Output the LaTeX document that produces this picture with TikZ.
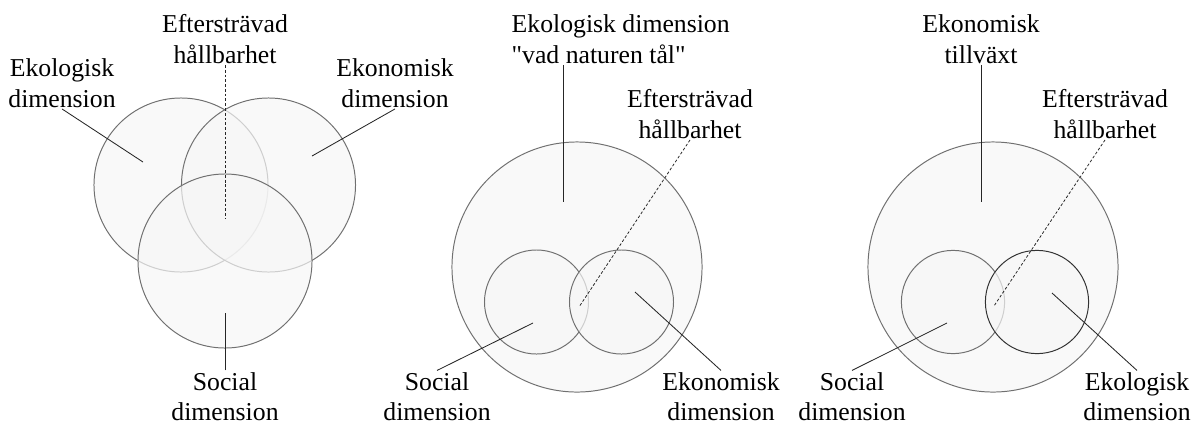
\documentclass[tikz,border=0pt]{standalone}
\usepackage{fontspec}
\setmainfont{Liberation Serif}
\usetikzlibrary{positioning,calc}
\definecolor{ringgray}{RGB}{112,112,112}
\definecolor{ringdark}{RGB}{50,50,50}
\definecolor{ringfill}{RGB}{246,246,246}

\begin{document}
\begin{tikzpicture}[x=0.025cm,y=-0.025cm,every node/.style={font=\fontsize{18.3}{21.34}\selectfont,inner sep=1pt,align=center},
ring/.style={circle,draw=ringgray,line width=0.7pt,fill=ringfill,fill opacity=0.7,draw opacity=1,inner sep=0pt,outer sep=0pt},
lead/.style={draw=black!85,line width=0.6pt},
aim/.style={draw=black!85,line width=0.55pt,dash pattern=on 2pt off 1.4pt}]
\useasboundingbox (0,0) rectangle (1192,423);
% three dimensions, equal weight
\node[ring,minimum size=4.35cm](eko1) at (181,185){};
\node[ring,minimum size=4.35cm](ekn1) at (268.5,185){};
\node[ring,minimum size=4.35cm](soc1) at (225,261){};
\node[anchor=base](aim1) at (225,63){Eftersträvad\\hållbarhet};
\node[anchor=base](ekoL1) at (62,107){Ekologisk\\dimension};
\node[anchor=base](eknL1) at (395,107){Ekonomisk\\dimension};
\node[anchor=base](socL1) at (225,420){Social\\dimension};
\coordinate(c11) at (143,162); \coordinate(c12) at (312,156); \coordinate(c13) at (225,313); \coordinate(c14) at (225,218);
\draw[lead](ekoL1.south)--(c11); \draw[lead](eknL1.south)--(c12); \draw[lead](socL1.north)--(c13);
\draw[aim](aim1.south)--(c14);
% ecology as the frame
\node[ring,minimum size=6.25cm](eko2) at (577,267){};
\node[ring,minimum size=2.6cm](soc2) at (536.5,302){};
\node[ring,minimum size=2.6cm](ekn2) at (621.5,302){};
\node[anchor=base west,align=left](ekoL2) at (510,63){Ekologisk dimension\\\textquotedbl vad naturen tål\textquotedbl};
\node[anchor=base](aim2) at (690,138){Eftersträvad\\hållbarhet};
\node[anchor=base](socL2) at (437,420){Social\\dimension};
\node[anchor=base](eknL2) at (721,420){Ekonomisk\\dimension};
\coordinate(p21) at (563,202); \coordinate(p22) at (579,307); \coordinate(p23) at (533,323); \coordinate(p24) at (635,292);
\draw[lead](ekoL2.south -| p21)--(p21); \draw[lead](socL2.north)--(p23); \draw[lead](eknL2.north)--(p24);
\draw[aim](aim2.south)--(p22);
% growth as the frame
\node[ring,minimum size=6.25cm](ekn3) at (993,267){};
\node[ring,minimum size=2.58cm](soc3) at (953,302){};
\node[ring,draw=ringdark,minimum size=2.58cm](eko3) at (1037,302){};
\node[anchor=base](tillL3) at (981,63){Ekonomisk\\tillväxt};
\node[anchor=base](aim3) at (1105,138){Eftersträvad\\hållbarhet};
\node[anchor=base](socL3) at (852,420){Social\\dimension};
\node[anchor=base](ekoL3) at (1137,420){Ekologisk\\dimension};
\coordinate(p31) at (981,202); \coordinate(p32) at (994,306); \coordinate(p33) at (947,323); \coordinate(p34) at (1052,293);
\draw[lead](tillL3.south)--(p31); \draw[lead](socL3.north)--(p33); \draw[lead](ekoL3.north)--(p34);
\draw[aim](aim3.south)--(p32);
\end{tikzpicture}
\end{document}
